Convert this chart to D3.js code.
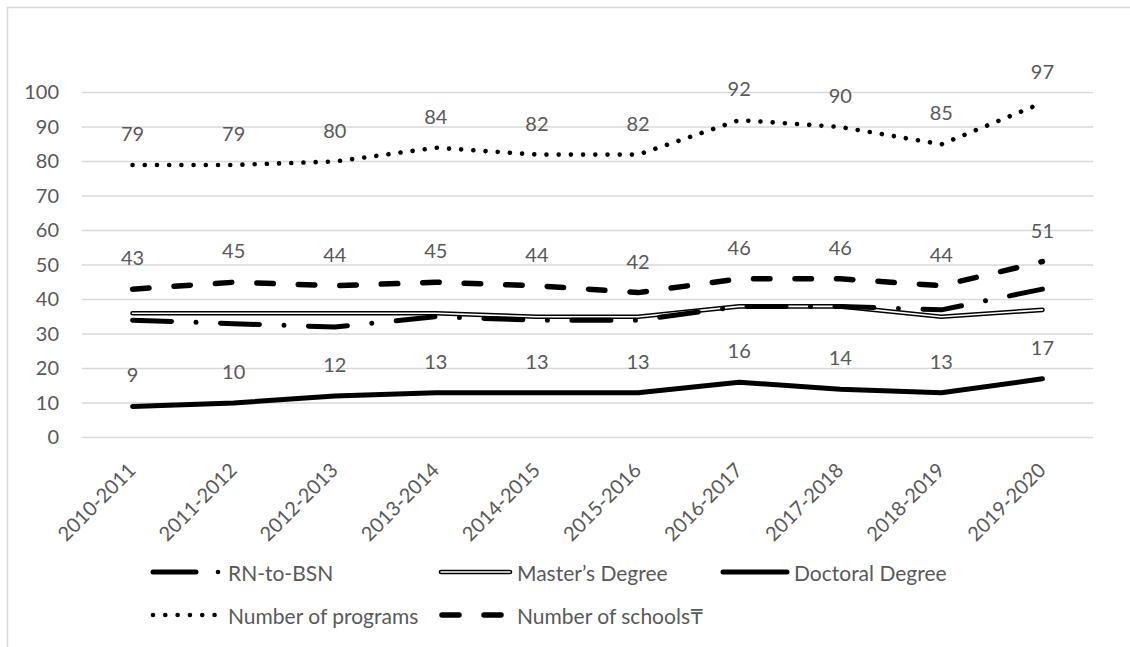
<!DOCTYPE html>
<html>
<head>
<meta charset="utf-8">
<script src="https://cdn.jsdelivr.net/npm/d3@7/dist/d3.min.js"></script>
<style>
  html, body { margin: 0; padding: 0; background: #fff; }
  svg { display: block; }
  text { font-family: Lato, "Open Sans", sans-serif; fill: #595959; }
</style>
</head>
<body>
<svg id="chart" width="1130" height="647"></svg>
<script>
// Academic years on the category axis
const years = ["2010-2011", "2011-2012", "2012-2013", "2013-2014", "2014-2015",
               "2015-2016", "2016-2017", "2017-2018", "2018-2019", "2019-2020"];

// Series values
const rnToBsn   = [34, 33, 32, 35, 34, 34, 38, 38, 37, 43];
const masters   = [36, 36, 36, 36, 35, 35, 38, 38, 35, 37];
const doctoral  = [9, 10, 12, 13, 13, 13, 16, 14, 13, 17];
const programs  = [79, 79, 80, 84, 82, 82, 92, 90, 85, 97];
const schools   = [43, 45, 44, 45, 44, 42, 46, 46, 44, 51];

// Value axis ticks
const yTicks = [0, 10, 20, 30, 40, 50, 60, 70, 80, 90, 100];

const svg = d3.select("#chart");

// Chart frame
svg.append("rect")
  .attr("x", 7.5).attr("y", 7.5)
  .attr("width", 1140).attr("height", 660)
  .attr("fill", "none").attr("stroke", "#d9d9d9").attr("stroke-width", 1.5);

const x = d3.scalePoint().domain(years).range([82, 1093]).padding(0.5);
const y = d3.scaleLinear().domain([0, 100]).range([437.5, 92.5]);

// Horizontal gridlines
svg.append("g").selectAll("line").data(yTicks).join("line")
  .attr("x1", 82).attr("x2", 1093)
  .attr("y1", d => y(d)).attr("y2", d => y(d))
  .attr("stroke", "#d9d9d9").attr("stroke-width", 1.5);

// Value axis labels
const yAxis = d3.axisLeft(y).tickValues(yTicks).tickSize(0).tickPadding(23);
const gy = svg.append("g").attr("transform", "translate(82,0)").call(yAxis);
gy.select(".domain").remove();
gy.selectAll("text").style("font-size", "20px").attr("fill", "#595959")
  .style("font-family", "Lato, sans-serif");

// Category axis labels, rotated
const xAxis = d3.axisBottom(x).tickSize(0).tickPadding(0);
const gx = svg.append("g").attr("transform", "translate(0,437.5)").call(xAxis);
gx.select(".domain").remove();
gx.selectAll("text")
  .style("font-size", "20px").attr("fill", "#595959")
  .style("font-family", "Lato, sans-serif")
  .attr("text-anchor", "end")
  .attr("dy", null).attr("y", null)
  .attr("transform", "translate(4,34) rotate(-45)");

const line = d3.line().x((d, i) => x(years[i])).y(d => y(d));

// Series styles
const styles = {
  rn:       { stroke: "#000", width: 5,   dash: "39 24.5 0.01 24.5" },
  doctoral: { stroke: "#000", width: 5,   dash: null },
  programs: { stroke: "#000", width: 4.6, dash: "0.01 12.2" },
  schools:  { stroke: "#000", width: 5.5, dash: "16.5 25" }
};

function drawSeries(vals, st) {
  svg.append("path").datum(vals)
    .attr("d", line)
    .attr("fill", "none")
    .attr("stroke", st.stroke)
    .attr("stroke-width", st.width)
    .attr("stroke-linecap", "round")
    .attr("stroke-linejoin", "round")
    .attr("stroke-dasharray", st.dash);
}

drawSeries(doctoral, styles.doctoral);
drawSeries(programs, styles.programs);
drawSeries(schools, styles.schools);

// Master's degree: double line (black outline with white core)
svg.append("path").datum(masters).attr("d", line)
  .attr("fill", "none").attr("stroke", "#000").attr("stroke-width", 4.6)
  .attr("stroke-linecap", "round").attr("stroke-linejoin", "miter");
svg.append("path").datum(masters).attr("d", line)
  .attr("fill", "none").attr("stroke", "#fff").attr("stroke-width", 1.6)
  .attr("stroke-linecap", "round").attr("stroke-linejoin", "miter");

drawSeries(rnToBsn, styles.rn);

// Data labels above points
function labels(vals) {
  svg.append("g").selectAll("text").data(vals).join("text")
    .attr("x", (d, i) => x(years[i]))
    .attr("y", d => y(d) - 32)
    .attr("text-anchor", "middle")
    .attr("dominant-baseline", "central")
    .style("font-size", "20px")
    .text(d => d);
}
labels(programs);
labels(schools);
labels(doctoral);

// Legend
const legend = svg.append("g");
const legendFont = "21px";
const legendItems = [
  { label: "RN-to-BSN",          kind: "rn",       x: 151, y: 572 },
  { label: "Master\u2019s Degree", kind: "masters",  x: 440, y: 572 },
  { label: "Doctoral Degree",    kind: "doctoral", x: 721, y: 572 },
  { label: "Number of programs", kind: "programs", x: 153, y: 615 },
  { label: "Number of schools\u20B8", kind: "schools", x: 440, y: 615 }
];

function legendText(g, tx, ty, label) {
  g.append("text").attr("x", tx).attr("y", ty).attr("dominant-baseline", "central")
    .style("font-size", legendFont).text(label);
}

legendItems.forEach(it => {
  const g = legend.append("g");
  if (it.kind === "rn") {
    g.append("line").attr("x1", it.x + 2).attr("x2", it.x + 45)
      .attr("y1", it.y).attr("y2", it.y)
      .attr("stroke", "#000").attr("stroke-width", 5).attr("stroke-linecap", "round");
    g.append("circle").attr("cx", it.x + 67).attr("cy", it.y).attr("r", 2.3).attr("fill", "#000");
    legendText(g, 228, it.y, it.label);
  } else if (it.kind === "masters") {
    g.append("line").attr("x1", it.x + 1).attr("x2", it.x + 70)
      .attr("y1", it.y).attr("y2", it.y)
      .attr("stroke", "#000").attr("stroke-width", 4.6).attr("stroke-linecap", "round");
    g.append("line").attr("x1", it.x + 1).attr("x2", it.x + 70)
      .attr("y1", it.y).attr("y2", it.y)
      .attr("stroke", "#fff").attr("stroke-width", 1.6).attr("stroke-linecap", "round");
    legendText(g, 517, it.y, it.label);
  } else if (it.kind === "doctoral") {
    g.append("line").attr("x1", it.x + 2).attr("x2", it.x + 66)
      .attr("y1", it.y).attr("y2", it.y)
      .attr("stroke", "#000").attr("stroke-width", 5).attr("stroke-linecap", "round");
    legendText(g, 794, it.y, it.label);
  } else if (it.kind === "programs") {
    g.append("line").attr("x1", it.x).attr("x2", it.x + 62)
      .attr("y1", it.y).attr("y2", it.y)
      .attr("stroke", "#000").attr("stroke-width", 4.6).attr("stroke-linecap", "round")
      .attr("stroke-dasharray", "0.01 12.3");
    legendText(g, 228, it.y, it.label);
  } else if (it.kind === "schools") {
    g.append("line").attr("x1", it.x + 2).attr("x2", it.x + 68)
      .attr("y1", it.y).attr("y2", it.y)
      .attr("stroke", "#000").attr("stroke-width", 5.5).attr("stroke-linecap", "round")
      .attr("stroke-dasharray", "17 25");
    legendText(g, 517, it.y, it.label);
  }
});
</script>
</body>
</html>
